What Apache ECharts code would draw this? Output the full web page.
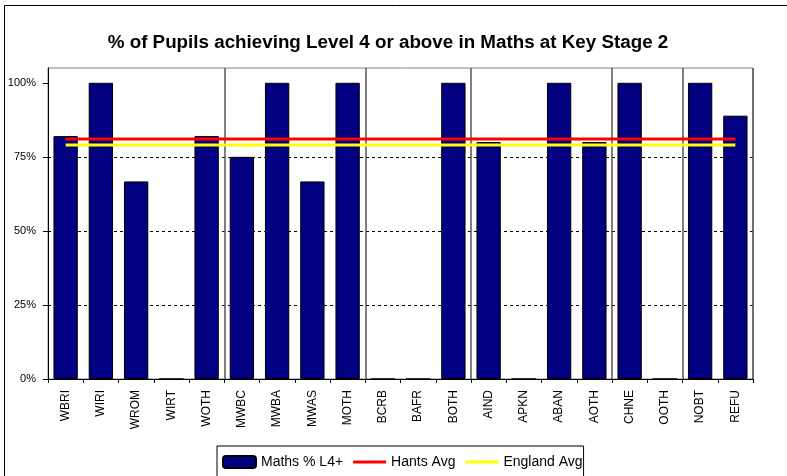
<!DOCTYPE html>
<html>
<head>
<meta charset="utf-8">
<script src="https://cdn.jsdelivr.net/npm/echarts@6/dist/echarts.min.js"></script>
<style>
html,body{margin:0;padding:0;background:#fff;}
#chart{width:787px;height:476px;}
</style>
</head>
<body>
<div id="chart"></div>
<script>
const titleText = '% of Pupils achieving Level 4 or above in Maths at Key Stage 2';
const categories = ['WBRI','WIRI','WROM','WIRT','WOTH','MWBC','MWBA','MWAS','MOTH','BCRB','BAFR','BOTH','AIND','APKN','ABAN','AOTH','CHNE','OOTH','NOBT','REFU'];
const mathsL4 = [82, 100, 66.7, 0, 82, 75, 100, 66.7, 100, 0, 0, 100, 80, 0, 100, 80, 100, 0, 100, 88.9];
const hantsAvg = [81, 81, 81, 81, 81, 81, 81, 81, 81, 81, 81, 81, 81, 81, 81, 81, 81, 81, 81, 81];
const englandAvg = [79, 79, 79, 79, 79, 79, 79, 79, 79, 79, 79, 79, 79, 79, 79, 79, 79, 79, 79, 79];
const groupBoundaries = [5, 9, 12, 16, 18];
const yTicks = [0, 25, 50, 75, 100];
const seriesNames = ['Maths % L4+', 'Hants Avg', 'England Avg'];

const FONT = '"Liberation Sans", Arial, sans-serif';
const LINE_ICON = 'path://M0,0h33v3h-33z';
const chart = echarts.init(document.getElementById('chart'), null, {renderer: 'canvas'});
chart.setOption({
  animation: false,
  backgroundColor: '#fff',
  textStyle: {fontFamily: FONT},
  title: {
    text: titleText,
    left: 388,
    textAlign: 'center',
    top: 33,
    padding: 0,
    textStyle: {fontFamily: FONT, fontSize: 18.8, fontWeight: 'bold', color: '#000'}
  },
  graphic: [{
    type: 'rect',
    shape: {x: 4.5, y: 5.5, width: 900, height: 900},
    style: {fill: 'none', stroke: '#000', lineWidth: 1},
    silent: true,
    z: 100
  }],
  legend: {
    left: 217,
    top: 446,
    padding: [9, 1, 12, 5],
    borderColor: '#000',
    borderWidth: 1,
    itemWidth: 33,
    itemHeight: 12,
    itemGap: 10,
    symbolKeepAspect: true,
    textStyle: {fontFamily: FONT, fontSize: 14, color: '#000'},
    data: [
      {name: seriesNames[0]},
      {name: seriesNames[1], icon: LINE_ICON, itemStyle: {color: '#ff0000', borderWidth: 0}},
      {name: seriesNames[2], icon: LINE_ICON, itemStyle: {color: '#ffff00', borderWidth: 0}}
    ]
  },
  grid: {
    left: 48, right: 34, top: 68, bottom: 97,
    show: true, borderColor: '#808080', borderWidth: 1, backgroundColor: '#fff'
  },
  xAxis: {
    type: 'category',
    data: categories,
    axisLine: {lineStyle: {color: '#000', width: 1}},
    axisTick: {show: true, length: 4, lineStyle: {color: '#000'}},
    axisLabel: {rotate: 90, fontSize: 12, color: '#000', margin: 11, fontFamily: FONT, interval: 0},
    splitLine: {
      show: true,
      interval: function (idx) { return groupBoundaries.indexOf(idx) >= 0; },
      lineStyle: {color: '#555', width: 1.5}
    }
  },
  yAxis: {
    type: 'value',
    min: 0, max: 105, interval: 25,
    axisLine: {show: true, lineStyle: {color: '#000', width: 1}},
    axisTick: {show: true, length: 5, customValues: yTicks, lineStyle: {color: '#000'}},
    axisLabel: {
      customValues: yTicks,
      formatter: function (v) { return v + '%'; },
      fontSize: 11, color: '#000', margin: 12, fontFamily: FONT
    },
    splitLine: {
      show: true, showMaxLine: false,
      lineStyle: {color: '#000', type: [3, 3], width: 1}
    }
  },
  series: [
    {
      name: seriesNames[0], type: 'bar', data: mathsL4, barWidth: '69%',
      itemStyle: {color: '#000080', borderColor: '#000', borderWidth: 1}
    },
    {
      name: seriesNames[1], type: 'line', data: hantsAvg, symbol: 'none',
      lineStyle: {color: '#ff0000', width: 3}, itemStyle: {color: '#ff0000'}, z: 3
    },
    {
      name: seriesNames[2], type: 'line', data: englandAvg, symbol: 'none',
      lineStyle: {color: '#ffff00', width: 3}, itemStyle: {color: '#ffff00'}, z: 3
    }
  ]
});
</script>
</body>
</html>
